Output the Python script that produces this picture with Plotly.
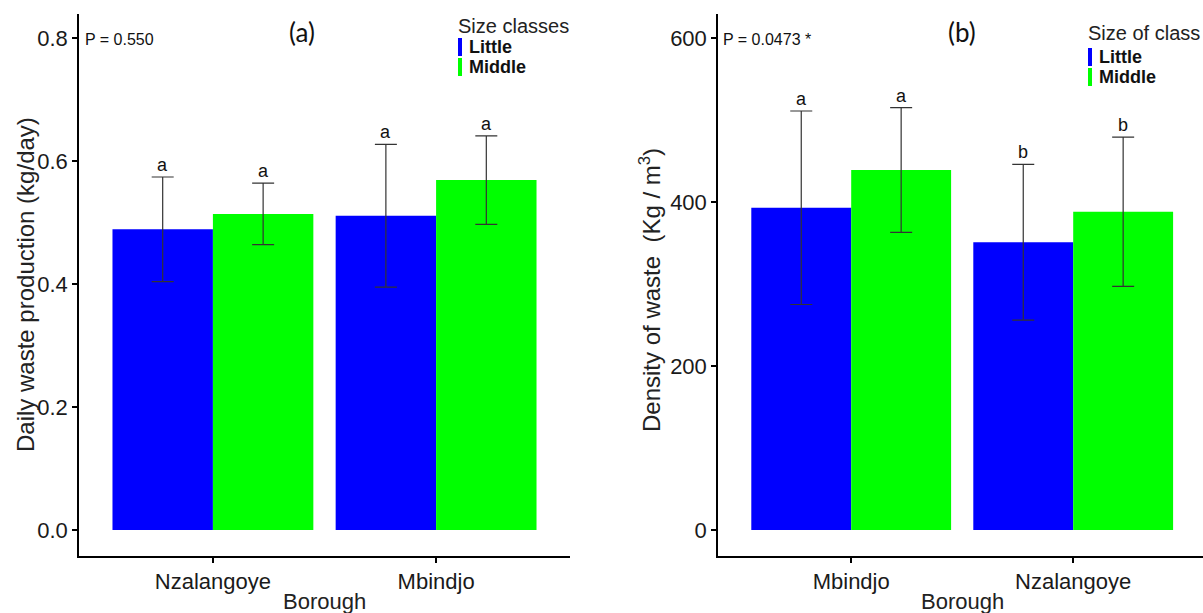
import plotly.graph_objects as go

W, H = 1203, 613

# ---- data ----
boroughs_a = ["Nzalangoye", "Mbindjo"]
little_a = [0.489, 0.511]
little_a_err = [0.085, 0.116]
middle_a = [0.514, 0.569]
middle_a_err = [0.050, 0.072]
letters_a_little = ["a", "a"]
letters_a_middle = ["a", "a"]

boroughs_b = ["Mbindjo", "Nzalangoye"]
little_b = [393, 351]
little_b_err = [118, 95]
middle_b = [439, 388]
middle_b_err = [76, 91]
letters_b_little = ["a", "b"]
letters_b_middle = ["a", "b"]

yticks_a = [0.0, 0.2, 0.4, 0.6, 0.8]
yticks_b = [0, 200, 400, 600]

BLUE = "#0000FF"
GREEN = "#00FF00"
ERR = "#333333"
FONT = "Liberation Sans, Arial, sans-serif"
NARROW = "Liberation Sans Narrow, Liberation Sans, Arial, sans-serif"

def px_x(p):
    return p / W

def px_y(p):
    return 1 - p / H

fig = go.Figure()

def add_bars(cats, lit, lit_e, mid, mid_e, xa, ya):
    fig.add_trace(go.Bar(
        x=cats, y=lit, name="Little", marker=dict(color=BLUE, line=dict(width=0)),
        error_y=dict(type="data", array=lit_e, visible=True, color=ERR, thickness=1.2, width=11),
        xaxis=xa, yaxis=ya, showlegend=False, offsetgroup="L"))
    fig.add_trace(go.Bar(
        x=cats, y=mid, name="Middle", marker=dict(color=GREEN, line=dict(width=0)),
        error_y=dict(type="data", array=mid_e, visible=True, color=ERR, thickness=1.2, width=11),
        xaxis=xa, yaxis=ya, showlegend=False, offsetgroup="M"))

add_bars(boroughs_a, little_a, little_a_err, middle_a, middle_a_err, "x", "y")
add_bars(boroughs_b, little_b, little_b_err, middle_b, middle_b_err, "x2", "y2")

ydom = [px_y(556), px_y(14)]
axis_common = dict(showline=True, linecolor="black", linewidth=1.5, ticks="outside",
                   ticklen=5, tickwidth=1.5, tickcolor="black", showgrid=False,
                   zeroline=False, tickfont=dict(family=FONT, size=22, color="#1a1a1a"))

fig.update_layout(
    width=W, height=H, margin=dict(l=0, r=0, t=0, b=0),
    paper_bgcolor="white", plot_bgcolor="white",
    barmode="group", bargap=0.1, bargroupgap=0,
    xaxis=dict(domain=[px_x(79), px_x(570)], range=[-0.6, 1.6], type="category",
               anchor="y", **axis_common),
    yaxis=dict(domain=ydom, range=[-26 / 615, 516 / 615], tickvals=yticks_a,
               ticktext=[f"{v:.1f}" for v in yticks_a], anchor="x", **axis_common),
    xaxis2=dict(domain=[px_x(718), 1.0], range=[-0.6, -0.6 + 485 / 222], type="category",
                anchor="y2", **axis_common),
    yaxis2=dict(domain=ydom, range=[-26 / 0.82, 516 / 0.82], tickvals=yticks_b,
                ticktext=[str(v) for v in yticks_b], anchor="x2", **axis_common),
)

ann = []
# significance letters
def letters(cats, lit, lit_e, mid, mid_e, lt_l, lt_m, xr, yr):
    for i in range(len(cats)):
        ann.append(dict(x=i - 0.225, y=lit[i] + lit_e[i], xref=xr, yref=yr, text=lt_l[i],
                        showarrow=False, yanchor="bottom", yshift=0,
                        font=dict(family=NARROW, size=18, color="#111")))
        ann.append(dict(x=i + 0.225, y=mid[i] + mid_e[i], xref=xr, yref=yr, text=lt_m[i],
                        showarrow=False, yanchor="bottom", yshift=0,
                        font=dict(family=NARROW, size=18, color="#111")))

letters(boroughs_a, little_a, little_a_err, middle_a, middle_a_err,
        letters_a_little, letters_a_middle, "x", "y")
letters(boroughs_b, little_b, little_b_err, middle_b, middle_b_err,
        letters_b_little, letters_b_middle, "x2", "y2")

def paper_text(x, y, text, size, family=FONT, xanchor="left", angle=0, color="#222", bold=False):
    if bold:
        text = f"<b>{text}</b>"
    ann.append(dict(x=px_x(x), y=px_y(y), xref="paper", yref="paper", text=text,
                    showarrow=False, xanchor=xanchor, yanchor="middle", textangle=angle,
                    font=dict(family=family, size=size, color=color)))

# panel labels & p-values
paper_text(302, 32, "(a)", 26, family="Lato, Open Sans, sans-serif", xanchor="center", color="#111")
paper_text(962, 32, "(b)", 26, family="Lato, Open Sans, sans-serif", xanchor="center", color="#111")
paper_text(83, 39, "P = 0.550", 16, family=NARROW, color="#111")
paper_text(721, 39, "P = 0.0473 *", 16, family=NARROW, color="#111")

# axis titles
paper_text(25, 285, "Daily waste production (kg/day)", 24, xanchor="center", angle=-90)
paper_text(650, 290, "Density of waste  (Kg / m<sup>3</sup>)", 24, xanchor="center", angle=-90)
paper_text(324, 601, "Borough", 22, xanchor="center")
paper_text(962, 601, "Borough", 22, xanchor="center")

# legends
paper_text(456, 26, "Size classes", 20)
paper_text(467, 47, "Little", 18, bold=True, color="#111")
paper_text(467, 67, "Middle", 18, bold=True, color="#111")
paper_text(1086, 33, "Size of class", 20)
paper_text(1097, 57, "Little", 18, bold=True, color="#111")
paper_text(1097, 77, "Middle", 18, bold=True, color="#111")

shapes = []
def key(x0, y0, y1, color):
    shapes.append(dict(type="rect", xref="paper", yref="paper", x0=px_x(x0), x1=px_x(x0 + 4),
                       y0=px_y(y1), y1=px_y(y0), fillcolor=color, line=dict(width=0)))

key(458, 38, 56, BLUE)
key(458, 58, 76, GREEN)
key(1088, 48, 66, BLUE)
key(1088, 68, 86, GREEN)

fig.update_layout(annotations=ann, shapes=shapes)
fig.write_html("out.html")
